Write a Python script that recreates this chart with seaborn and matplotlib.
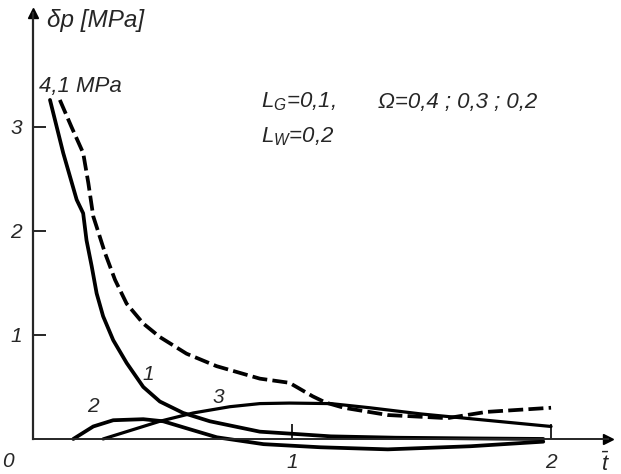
import matplotlib
matplotlib.use('Agg')
import matplotlib.pyplot as plt
import pandas as pd
import seaborn as sns


# curves (t-bar, delta p in MPa)
t_1 = [0.066, 0.117, 0.169, 0.194, 0.207, 0.227, 0.246, 0.271, 0.31, 0.362,
       0.426, 0.49, 0.58, 0.683, 0.876, 1.0, 1.15, 1.4, 1.7, 1.97]
dp_1 = [3.26, 2.75, 2.30, 2.17, 1.91, 1.66, 1.40, 1.18, 0.95, 0.73,
        0.50, 0.36, 0.25, 0.17, 0.07, 0.05, 0.025, 0.012, 0.005, 0.0]

t_dash = [0.104, 0.149, 0.194, 0.214, 0.233, 0.246, 0.278, 0.317, 0.362,
          0.426, 0.49, 0.593, 0.709, 0.876, 0.99, 1.08, 1.13, 1.20, 1.37,
          1.60, 1.75, 2.0]
dp_dash = [3.26, 3.00, 2.75, 2.46, 2.14, 2.04, 1.79, 1.53, 1.30,
           1.11, 0.98, 0.82, 0.70, 0.58, 0.54, 0.41, 0.35, 0.30, 0.23,
           0.20, 0.26, 0.30]

t_2 = [0.156, 0.233, 0.31, 0.426, 0.503, 0.61, 0.71, 0.89, 1.11, 1.37,
       1.69, 1.97]
dp_2 = [0.0, 0.12, 0.18, 0.19, 0.17, 0.09, 0.016, -0.05, -0.08, -0.10,
        -0.07, -0.026]

t_3 = [0.271, 0.49, 0.619, 0.76, 0.876, 0.99, 1.15, 1.3, 1.5, 1.75, 2.0]
dp_3 = [0.0, 0.17, 0.25, 0.31, 0.34, 0.345, 0.34, 0.30, 0.24, 0.18, 0.12]

y_ticks = [1, 2, 3]
x_ticks = [1, 2]

sns.set_style('white')
plt.rcParams['font.family'] = ['Liberation Sans', 'DejaVu Sans']
plt.rcParams['font.style'] = 'italic'
plt.rcParams['mathtext.fontset'] = 'custom'
plt.rcParams['mathtext.rm'] = 'Liberation Sans:italic'
plt.rcParams['mathtext.it'] = 'Liberation Sans:italic'

fig = plt.figure(figsize=(6.21, 4.74), dpi=100)
ax = fig.add_axes([0, 0, 1, 1])
ax.set_xlim(-0.127, 2.27)
ax.set_ylim(-0.337, 4.221)

df1 = pd.DataFrame({'t': t_1, 'dp': dp_1})
dfd = pd.DataFrame({'t': t_dash, 'dp': dp_dash})
df2 = pd.DataFrame({'t': t_2, 'dp': dp_2})
df3 = pd.DataFrame({'t': t_3, 'dp': dp_3})

sns.lineplot(data=df1, x='t', y='dp', sort=False, color='black', lw=2.7, ax=ax)
sns.lineplot(data=df2, x='t', y='dp', sort=False, color='black', lw=2.7, ax=ax)
sns.lineplot(data=df3, x='t', y='dp', sort=False, color='black', lw=2.3, ax=ax)
line_d = sns.lineplot(data=dfd, x='t', y='dp', sort=False, color='black',
                      lw=2.7, ax=ax).lines[-1]
line_d.set_dashes((4.0, 1.4))

# axes drawn like the book figure: spines through zero with arrows
for s in ['top', 'right']:
    ax.spines[s].set_visible(False)
ax.spines['left'].set_position(('data', 0))
ax.spines['bottom'].set_position(('data', 0))
ax.spines['left'].set_bounds(0, 4.1)
ax.spines['bottom'].set_bounds(0, 2.22)
ax.spines['left'].set_linewidth(1.6)
ax.spines['bottom'].set_linewidth(1.4)
ax.plot(0, 4.1, marker='^', color='black', ms=7, clip_on=False)
ax.plot(2.22, 0, marker='>', color='black', ms=7, clip_on=False)

ax.set_yticks(y_ticks)
ax.set_xticks(x_ticks)
ax.set_yticklabels([str(v) for v in y_ticks])
ax.set_xticklabels([str(v) for v in x_ticks])
ax.tick_params(axis='y', left=True, direction='in', length=9, width=1.4,
               pad=8, labelsize=15)
ax.tick_params(axis='x', bottom=True, direction='in', length=11, width=1.4,
               pad=10, labelsize=15)
ax.set_xlabel('')
ax.set_ylabel('')

ax.text(-0.097, -0.22, '0', fontsize=15, ha='center', va='center')
ax.text(2.21, -0.24, r'$\bar{t}$', fontsize=16, ha='center', va='center')
ax.text(0.054, 4.02, 'δp [MPa]', fontsize=17.5, ha='left', va='center')
ax.text(0.025, 3.39, '4,1 MPa', fontsize=16, ha='left', va='center')

ax.text(0.444, 0.62, '1', fontsize=15, ha='center', va='center')
ax.text(0.232, 0.31, '2', fontsize=15, ha='center', va='center')
ax.text(0.714, 0.40, '3', fontsize=15, ha='center', va='center')

ax.text(0.88, 3.24, '$L_G$=0,1,', fontsize=16, ha='left', va='center')
ax.text(1.332, 3.24, 'Ω=0,4 ; 0,3 ; 0,2', fontsize=16, ha='left',
        va='center')
ax.text(0.88, 2.91, '$L_W$=0,2', fontsize=16, ha='left', va='center')

fig.savefig('out.png', dpi=100)
